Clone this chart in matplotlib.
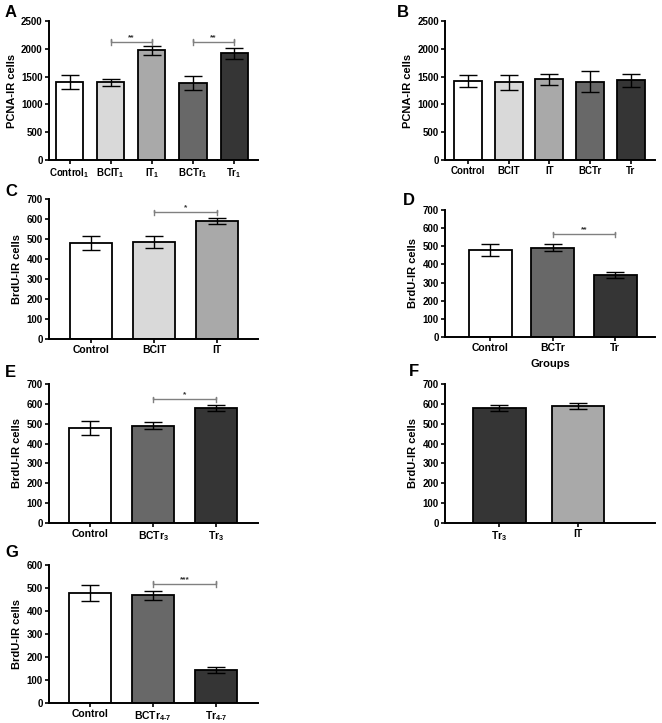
import numpy as np
import matplotlib.pyplot as plt

plt.rcParams['font.family'] = ['Liberation Sans', 'DejaVu Sans']
plt.rcParams['font.weight'] = 'bold'
plt.rcParams['mathtext.fontset'] = 'custom'
plt.rcParams['mathtext.bf'] = 'Liberation Sans:bold'
plt.rcParams['mathtext.rm'] = 'Liberation Sans:bold'
plt.rcParams['mathtext.default'] = 'bf'

# =============================
# Data
# =============================

WHITE, LIGHT, MID, DARK, BLACKISH = '#ffffff', '#d9d9d9', '#a9a9a9', '#686868', '#353535'

a_labels = [r'Control$_1$', r'BCIT$_1$', r'IT$_1$', r'BCTr$_1$', r'Tr$_1$']
a_means = [1410, 1395, 1970, 1385, 1920]
a_err = [125, 70, 80, 125, 100]
a_colors = [WHITE, LIGHT, MID, DARK, BLACKISH]

b_labels = ['Control', 'BCIT', 'IT', 'BCTr', 'Tr']
b_means = [1420, 1400, 1450, 1410, 1430]
b_err = [110, 135, 105, 185, 115]
b_colors = [WHITE, LIGHT, MID, DARK, BLACKISH]

c_labels = ['Control', 'BCIT', 'IT']
c_means = [480, 487, 590]
c_err = [37, 30, 17]
c_colors = [WHITE, LIGHT, MID]

d_labels = ['Control', 'BCTr', 'Tr']
d_means = [480, 492, 340]
d_err = [35, 18, 16]
d_colors = [WHITE, DARK, BLACKISH]

e_labels = ['Control', r'BCTr$_3$', r'Tr$_3$']
e_means = [480, 490, 580]
e_err = [35, 18, 15]
e_colors = [WHITE, DARK, BLACKISH]

f_labels = [r'Tr$_3$', 'IT']
f_means = [580, 590]
f_err = [15, 15]
f_colors = [BLACKISH, MID]

g_labels = ['Control', r'BCTr$_{4\text{-}7}$', r'Tr$_{4\text{-}7}$']
g_means = [480, 468, 143]
g_err = [35, 20, 13]
g_colors = [WHITE, DARK, BLACKISH]

W, H = 662, 723


def px_axes(fig, left, top, right, bottom):
    return fig.add_axes([left / W, 1 - bottom / H, (right - left) / W, (bottom - top) / H])


def bar_panel(ax, labels, means, err, colors, ylabel, ymax, ystep, xlim, width, fs):
    x = np.arange(len(means))
    ax.bar(x, means, width=width, color=colors, edgecolor='black', linewidth=1.3, zorder=2)
    ax.errorbar(x, means, yerr=err, fmt='none', ecolor='black', elinewidth=1.0,
                capsize=6.5, capthick=1.0, zorder=3)
    ax.set_xlim(*xlim)
    ax.set_ylim(0, ymax)
    ax.set_yticks(np.arange(0, ymax + 1, ystep))
    ax.set_xticks(x)
    ax.set_xticklabels(labels, fontsize=fs, fontweight='bold')
    for t in ax.get_yticklabels():
        t.set_fontsize(7)
        t.set_fontweight('bold')
    ax.set_ylabel(ylabel, fontsize=8, fontweight='bold', labelpad=3)
    for s in ['top', 'right']:
        ax.spines[s].set_visible(False)
    for s in ['left', 'bottom']:
        ax.spines[s].set_linewidth(1.4)
    ax.tick_params(axis='both', direction='out', length=3, width=1.2, pad=1.5)


def sig(ax, x1, x2, y, stars, ymax):
    tick = ymax * 0.02
    ax.plot([x1, x1, x1, x2, x2, x2], [y - tick, y + tick, y, y, y + tick, y - tick],
            color='#808080', lw=1.0, zorder=4)
    ax.text((x1 + x2) / 2, y + tick * 0.3, stars, ha='center', va='bottom',
            fontsize=6, fontweight='bold', color='#333333')


fig = plt.figure(figsize=(W / 100, H / 100), dpi=100)

# A
ax = px_axes(fig, 49, 21, 258, 160)
bar_panel(ax, a_labels, a_means, a_err, a_colors, 'PCNA-IR cells', 2500, 500,
          (-0.5, 4.58), 0.66, 7)
sig(ax, 1, 2, 2125, '**', 2500)
sig(ax, 3, 4, 2125, '**', 2500)

# B
ax = px_axes(fig, 445, 21, 655, 160)
bar_panel(ax, b_labels, b_means, b_err, b_colors, 'PCNA-IR cells', 2500, 500,
          (-0.56, 4.59), 0.69, 7)

# C
ax = px_axes(fig, 49, 199, 258, 339)
bar_panel(ax, c_labels, c_means, c_err, c_colors, 'BrdU-IR cells', 700, 100,
          (-0.67, 2.65), 0.67, 7.5)
sig(ax, 1, 2, 633, '*', 700)

# D
ax = px_axes(fig, 445, 210, 655, 337)
bar_panel(ax, d_labels, d_means, d_err, d_colors, 'BrdU-IR cells', 700, 100,
          (-0.73, 2.64), 0.69, 7.5)
sig(ax, 1, 2, 566, '**', 700)
ax.set_xlabel('Groups', fontsize=8, fontweight='bold', labelpad=4)

# E
ax = px_axes(fig, 49, 384, 258, 523)
bar_panel(ax, e_labels, e_means, e_err, e_colors, 'BrdU-IR cells', 700, 100,
          (-0.66, 2.67), 0.67, 7.5)
sig(ax, 1, 2, 623, '*', 700)

# F
ax = px_axes(fig, 445, 384, 655, 523)
bar_panel(ax, f_labels, f_means, f_err, f_colors, 'BrdU-IR cells', 700, 100,
          (-0.69, 1.98), 0.67, 7.5)

# G
ax = px_axes(fig, 49, 565, 258, 703)
bar_panel(ax, g_labels, g_means, g_err, g_colors, 'BrdU-IR cells', 600, 100,
          (-0.66, 2.67), 0.67, 7.5)
sig(ax, 1, 2, 518, '***', 600)

# panel letters
for letter, x, y in [('A', 5, 5), ('B', 397, 5), ('C', 5, 184), ('D', 403, 193),
                     ('E', 5, 365), ('F', 409, 364), ('G', 5, 545)]:
    fig.text(x / W, 1 - y / H, letter, fontsize=12, fontweight='bold', ha='left', va='top')

fig.savefig('out.png', dpi=100)
